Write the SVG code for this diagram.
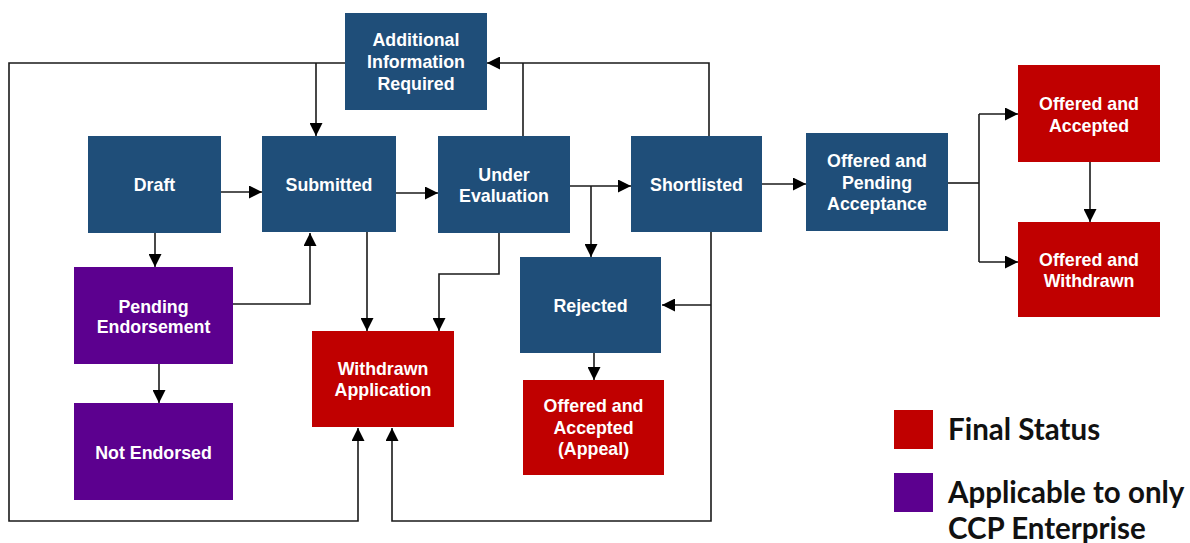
<svg xmlns="http://www.w3.org/2000/svg" width="1190" height="543" viewBox="0 0 1190 543">
<style>
.blue{fill:#1F4E79}
.red{fill:#C00000}
.purple{fill:#5C008F}
.lbl{font-family:"Liberation Sans",Arial,sans-serif;font-weight:bold;font-size:17.8px;fill:#fff;text-anchor:middle}
.con{fill:none;stroke:#1a1a1a;stroke-width:1.6}
.leg{font-family:Lato,"Liberation Sans",sans-serif;font-weight:bold;font-size:29.5px;fill:#111}
</style>
<defs>
<marker id="ah" markerUnits="userSpaceOnUse" markerWidth="13" markerHeight="13" refX="13" refY="6.5" orient="auto">
<path d="M0,0 L13,6.5 L0,13 z" fill="#000"/>
</marker>
</defs>
<rect width="1190" height="543" fill="#fff"/>
<g id="connectors" class="con">
<path d="M345,63 H9 V521 H358 V428" marker-end="url(#ah)"/>
<path d="M316,63 V136" marker-end="url(#ah)"/>
<path d="M221,192 H262" marker-end="url(#ah)"/>
<path d="M155,233 V267" marker-end="url(#ah)"/>
<path d="M233,304 H310 V233" marker-end="url(#ah)"/>
<path d="M159,364 V403" marker-end="url(#ah)"/>
<path d="M367,232 V331" marker-end="url(#ah)"/>
<path d="M396,193 H438" marker-end="url(#ah)"/>
<path d="M523,136 V63"/>
<path d="M709,136 V63 H487" marker-end="url(#ah)"/>
<path d="M570,186 H631" marker-end="url(#ah)"/>
<path d="M591,186 V257" marker-end="url(#ah)"/>
<path d="M499,233 V274 H439 V331" marker-end="url(#ah)"/>
<path d="M762,184 H806" marker-end="url(#ah)"/>
<path d="M711,232 V521 H392 V428" marker-end="url(#ah)"/>
<path d="M711,305 H662" marker-end="url(#ah)"/>
<path d="M948,183 H979"/>
<path d="M979,114 V262"/>
<path d="M979,114 H1018" marker-end="url(#ah)"/>
<path d="M979,262 H1018" marker-end="url(#ah)"/>
<path d="M1090,162 V222" marker-end="url(#ah)"/>
<path d="M594,353 V380" marker-end="url(#ah)"/>
</g>
<g id="additional"><rect class="blue" x="345" y="13" width="142" height="97"/>
<text class="lbl" x="416" y="46">Additional</text><text class="lbl" x="416" y="68">Information</text><text class="lbl" x="416" y="90">Required</text></g>
<g id="draft"><rect class="blue" x="88" y="136" width="133" height="97"/><text class="lbl" x="154.5" y="191">Draft</text></g>
<g id="submitted"><rect class="blue" x="262" y="136" width="134" height="96"/><text class="lbl" x="329" y="191">Submitted</text></g>
<g id="under-evaluation"><rect class="blue" x="438" y="136" width="132" height="97"/>
<text class="lbl" x="504" y="180.5">Under</text><text class="lbl" x="504" y="202">Evaluation</text></g>
<g id="shortlisted"><rect class="blue" x="631" y="136" width="131" height="96"/><text class="lbl" x="696.5" y="191">Shortlisted</text></g>
<g id="offered-pending"><rect class="blue" x="806" y="133" width="142" height="98"/>
<text class="lbl" x="877" y="167">Offered and</text><text class="lbl" x="877" y="188.5">Pending</text><text class="lbl" x="877" y="210">Acceptance</text></g>
<g id="offered-accepted"><rect class="red" x="1018" y="65" width="142" height="97"/>
<text class="lbl" x="1089" y="110">Offered and</text><text class="lbl" x="1089" y="131.5">Accepted</text></g>
<g id="offered-withdrawn"><rect class="red" x="1018" y="222" width="142" height="95"/>
<text class="lbl" x="1089" y="265.5">Offered and</text><text class="lbl" x="1089" y="287">Withdrawn</text></g>
<g id="pending-endorsement"><rect class="purple" x="74" y="267" width="159" height="97"/>
<text class="lbl" x="153.5" y="312.5">Pending</text><text class="lbl" x="153.5" y="333">Endorsement</text></g>
<g id="not-endorsed"><rect class="purple" x="74" y="403" width="159" height="97"/><text class="lbl" x="153.5" y="458.5">Not Endorsed</text></g>
<g id="withdrawn-application"><rect class="red" x="312" y="331" width="142" height="96"/>
<text class="lbl" x="383" y="374.5">Withdrawn</text><text class="lbl" x="383" y="396">Application</text></g>
<g id="rejected"><rect class="blue" x="520" y="257" width="141" height="96"/><text class="lbl" x="590.5" y="311.5">Rejected</text></g>
<g id="offered-appeal"><rect class="red" x="523" y="380" width="141" height="95"/>
<text class="lbl" x="593.5" y="412">Offered and</text><text class="lbl" x="593.5" y="433.5">Accepted</text><text class="lbl" x="593.5" y="455">(Appeal)</text></g>
<g id="legend">
<rect class="red" x="894" y="410" width="39" height="39"/>
<text class="leg" x="948" y="440">Final Status</text>
<rect class="purple" x="894" y="473" width="39" height="39"/>
<text class="leg" x="948" y="503">Applicable to only</text>
<text class="leg" x="948" y="539">CCP Enterprise</text>
</g>
</svg>
